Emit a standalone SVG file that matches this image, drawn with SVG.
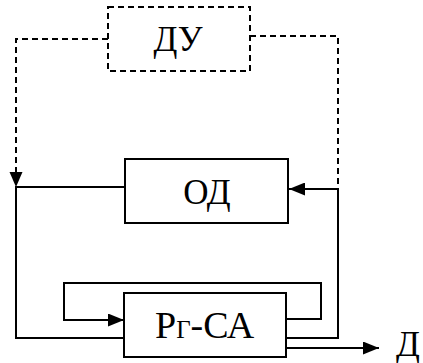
<svg xmlns="http://www.w3.org/2000/svg" width="423" height="363" viewBox="0 0 423 363">
<style>
.box{fill:#fff;stroke:#000;stroke-width:2}
.dbox{fill:none;stroke:#000;stroke-width:2;stroke-dasharray:6,4}
.ln{fill:none;stroke:#000;stroke-width:2}
.dl{fill:none;stroke:#000;stroke-width:2;stroke-dasharray:6,4}
.t{font-family:"Liberation Serif","Times New Roman",serif;fill:#000}
</style>
<defs>
<marker id="ah" markerWidth="17" markerHeight="13" refX="16" refY="6.5" orient="auto" markerUnits="userSpaceOnUse">
<path d="M0,0 L16,6.5 L0,13 Z" fill="#000"/>
</marker>
</defs>
<g id="connectors">
<path class="dl" d="M108,39 H16 V172"/>
<path d="M9.5,172 L22.5,172 L16,187 Z" fill="#000"/>
<path class="dl" d="M250,36 H338 V189"/>
<path class="ln" d="M338,189 H289" marker-end="url(#ah)"/>
<path class="ln" d="M125,187 H16 V338 H124"/>
<path class="ln" d="M286,338 H338 V189"/>
<path class="ln" d="M286,319 H321 V283 H64 V320 H124" marker-end="url(#ah)"/>
<path class="ln" d="M286,348 H379" marker-end="url(#ah)"/>
</g>
<g id="DU">
<rect class="dbox" x="108" y="7" width="142" height="64"/>
<text class="t" x="178" y="51" font-size="35" text-anchor="middle">ДУ</text>
</g>
<g id="OD">
<rect class="box" x="125" y="159" width="163" height="64"/>
<text class="t" x="207" y="204" font-size="35" text-anchor="middle">ОД</text>
</g>
<g id="RG-SA">
<rect class="box" x="124" y="293" width="162" height="64"/>
<text class="t" x="155" y="338" font-size="38">Р<tspan font-size="25">Г</tspan>-СА</text>
</g>
<g id="D-out">
<text class="t" x="396" y="356" font-size="35">Д</text>
</g>
</svg>
